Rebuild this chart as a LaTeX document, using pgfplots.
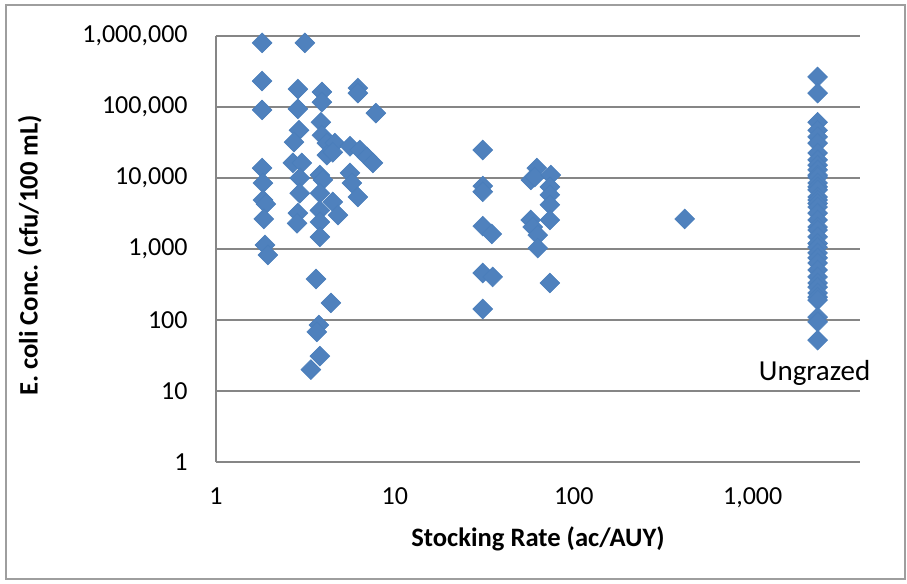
\documentclass[border=0pt]{standalone}
\usepackage{pgfplots}
\pgfplotsset{compat=1.18}
\usepackage{fontspec}
\setmainfont{Carlito}
\definecolor{mk}{HTML}{4F81BD}
\definecolor{mkd}{HTML}{4A7EBB}
\definecolor{gr}{HTML}{868686}
\begin{document}
\begin{tikzpicture}
\path (-108pt,-61pt) rectangle (345.5pt,231pt);
\draw[gr!80, line width=0.9pt] (-105pt,-58.5pt) rectangle (344.5pt,228.5pt);
\begin{axis}[
  at={(0pt,0pt)}, anchor=origin,
  scale only axis, width=322pt, height=213pt,
  xmode=log, ymode=log,
  xmin=1, xmax=3981, ymin=1, ymax=1000000,
  axis x line*=bottom,
  axis y line*=left,
  x axis line style={draw=none},
  y axis line style={gr, line width=1pt, -},
  ymajorgrids, grid style={gr, line width=1pt},
  xtick={1,10,100,1000}, xticklabels={1,10,100,{1,000}},
  ytick={1,10,100,1000,10000,100000,1000000},
  yticklabels={1,10,100,{1,000},{10,000},{100,000},{1,000,000}},
  minor tick num=0, major tick length=0pt,
  xtick style={draw=none}, ytick style={draw=none},
  xticklabel style={anchor=base, yshift=-21pt, inner sep=0pt},
  yticklabel style={anchor=east, xshift=-14pt, inner sep=0pt},
  tick label style={font=\fontsize{13}{15}\selectfont},
  xlabel={\textbf{Stocking Rate (ac/AUY)}},
  ylabel={\textbf{E. coli Conc. (cfu/100 mL)}},
  every axis x label/.style={at={(axis description cs:0.5,-0.18)}, anchor=center, font=\fontsize{13.3}{15}\selectfont},
  every axis y label/.style={at={(axis description cs:-0.289,0.485)}, anchor=center, rotate=90, font=\fontsize{13.3}{15}\selectfont},
  clip=false,
]
\addplot[only marks, mark=square*, mark size=3.5pt, mark options={rotate=45, fill=mk, draw=mkd, line width=0.3pt}] coordinates {
(1.81,800000) (3.14,800000) (1.81,232000) (2.87,179000) (3.91,163000)
(6.21,185000) (6.21,157000) (1.81,91000) (2.87,94000) (3.91,117000)
(7.83,82000) (3.86,61000) (2.91,47000) (2.73,32000) (3.91,40000)
(4.17,31000) (4.62,31000) (5.61,28000) (6.37,24800) (1.81,13800)
(2.69,16300) (3.02,16300) (4.17,21000) (4.50,23000) (6.98,19800)
(7.54,16300) (1.83,8500) (2.94,10000) (3.81,11000) (3.96,9400)
(5.61,11800) (5.75,8500) (6.21,5400) (1.83,4900) (1.90,4300)
(2.94,6100) (3.81,6100) (4.50,4600) (4.81,3000) (1.85,2650)
(2.87,3200) (2.84,2300) (3.81,3500) (3.81,2400) (3.81,1480)
(1.88,1140) (1.95,823) (3.62,378) (4.39,174) (3.76,85)
(3.66,68) (3.81,31) (3.39,20)
(31.0,24800) (31.0,7700) (31.0,6400) (31.0,2100) (34.8,1630)
(31.0,459) (35.2,404) (31.0,143)
(62.1,13800) (57.5,9400) (60.5,10300) (74.4,11000) (73.5,7500) (73.5,5800)
(73.5,4200) (73.5,2560) (57.5,2560) (59.0,2040) (62.9,1570)
(62.9,1030) (73.5,332)
(417,2650)
(2307,265000) (2307,157000) (2307,61000) (2307,47000) (2307,38000)
(2307,31000) (2307,22500) (2307,18000) (2307,15200) (2307,13000)
(2307,11000) (2307,10300) (2307,8500) (2307,7500) (2307,6800)
(2307,5400) (2307,4900) (2307,4400) (2307,3900) (2307,3200)
(2307,2560) (2307,2040) (2307,1850) (2307,1480) (2307,1200)
(2307,1060) (2307,880) (2307,750) (2307,635) (2307,506)
(2307,404) (2307,332) (2307,290) (2307,240) (2307,210)
(2307,191) (2307,110) (2307,94) (2307,52)
};
\node[font=\fontsize{14.5}{16}\selectfont, anchor=center] at (axis cs:2220,18) {Ungrazed};
\end{axis}
\end{tikzpicture}
\end{document}
